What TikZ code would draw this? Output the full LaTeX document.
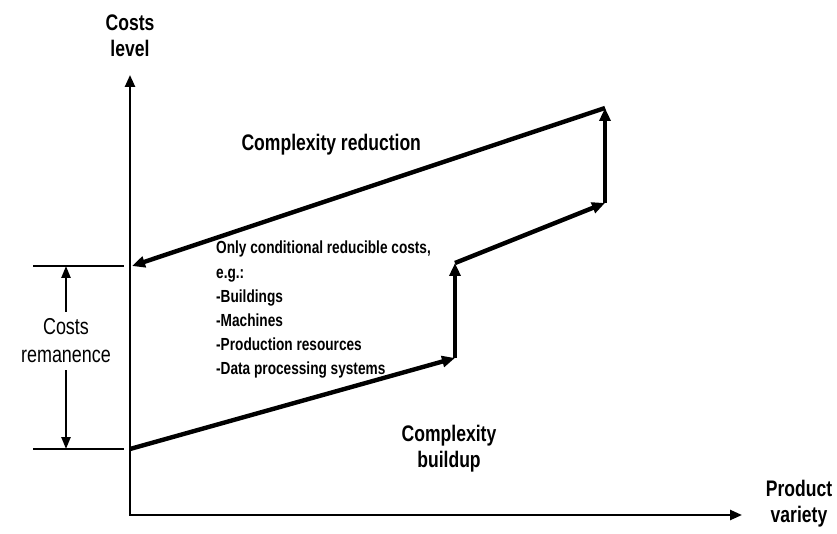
\documentclass[tikz,border=0pt]{standalone}
\usepackage{fontspec}
\setmainfont{Liberation Sans}[FakeStretch=0.78]
\usetikzlibrary{arrows.meta}

\begin{document}
\begin{tikzpicture}[x=1pt,y=-1pt,
  axis/.style={line width=2.4pt,{Triangle[length=12pt,width=10pt]}-{Triangle[length=12pt,width=10pt]}},
  costline/.style={line width=4.4pt,-{Triangle[length=13pt,width=11pt]}},
  tick/.style={line width=2pt},
  dim/.style={line width=2.4pt,-{Triangle[length=12pt,width=9pt]}},
  lbl/.style={font=\fontsize{22.5}{26}\selectfont\bfseries,align=center},
  remlbl/.style={font=\fontsize{23}{28}\selectfont,align=center,inner sep=7pt},
  listtext/.style={font=\fontsize{17.5}{24.2}\selectfont\bfseries,align=left,inner sep=0pt}]
\useasboundingbox (0,0) rectangle (837,534);

% axes
\coordinate (origin) at (130,515);
\coordinate (ytop) at (130,75);
\coordinate (xend) at (742,515);
\draw[axis] (ytop) -- (origin) -- (xend);
\node[lbl] (ylabel) at (130,36) {Costs\\level};
\node[lbl] (xlabel) at (799,504) {Product\\variety};

% cost curve
\coordinate (c0) at (130,449);
\coordinate (c1) at (455,358);
\coordinate (c2) at (455,263);
\coordinate (c3) at (605,203);
\coordinate (c4) at (605,108);
\coordinate (c5) at (132,266);
\draw[costline] (c0) -- (c1);
\draw[costline] (c1) -- (c2);
\draw[costline] (c2) -- (c3);
\draw[costline] (c3) -- (c4);
\draw[costline] (c4) -- (c5);

\node[lbl,anchor=base west] (reduction) at (238,151) {Complexity reduction};
\node[lbl] (buildup) at (449,449) {Complexity\\buildup};
\node[listtext,anchor=north west] (examples) at (216,241)
  {Only conditional reducible costs,\\e.g.:\\-Buildings\\-Machines\\-Production resources\\-Data processing systems};

% remanence
\coordinate (remtopL) at (33,266);
\coordinate (remtopR) at (124,266);
\coordinate (rembotL) at (33,449);
\coordinate (rembotR) at (124,449);
\coordinate (dimtop) at (66,266);
\coordinate (dimbot) at (66,449);
\draw[tick] (remtopL) -- (remtopR);
\draw[tick] (rembotL) -- (rembotR);
\node[remlbl] (rem) at (66,341) {Costs\\remanence};
\draw[dim] (rem.north) -- (dimtop);
\draw[dim] (rem.south) -- (dimbot);
\end{tikzpicture}
\end{document}
